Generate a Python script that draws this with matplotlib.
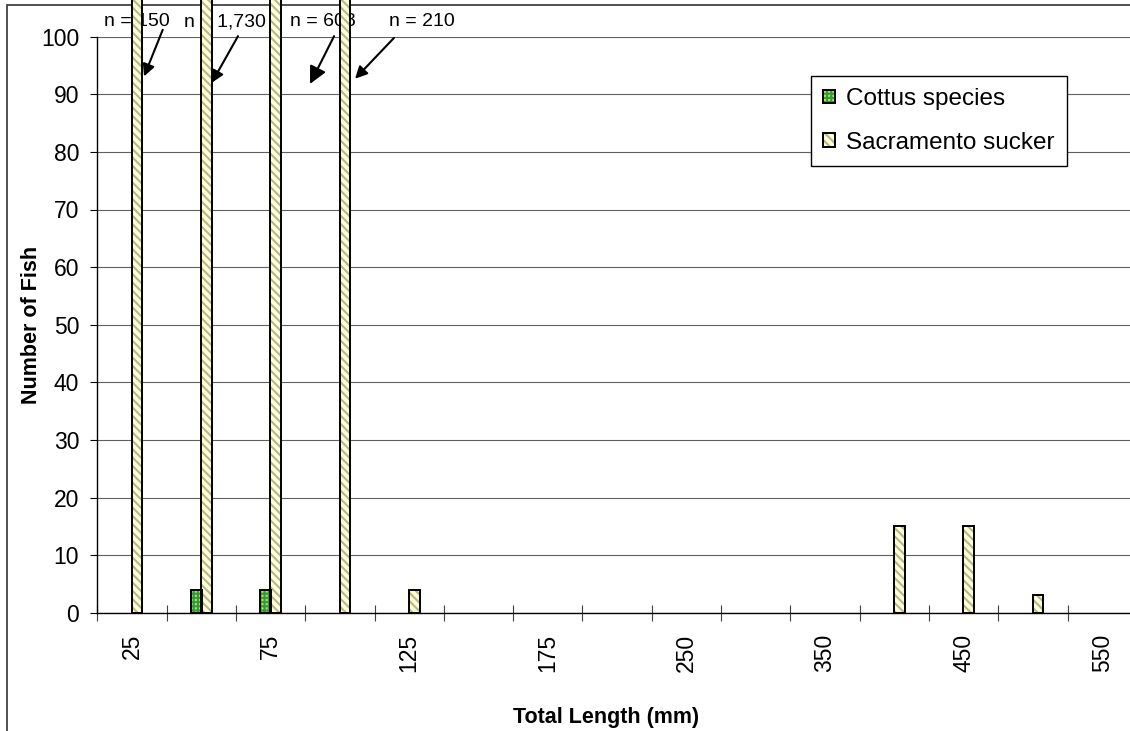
import numpy as np
import matplotlib
matplotlib.use('Agg')
import matplotlib.pyplot as plt
from matplotlib.patches import Patch, Rectangle

# length classes (mm) and counts per species
length_bins = [25, 50, 75, 100, 125, 150, 175, 200, 250, 300, 350, 400, 450, 500, 550]
cottus = np.array([0, 4, 4, 0, 0, 0, 0, 0, 0, 0, 0, 0, 0, 0, 0])
sucker = np.array([150, 1730, 608, 210, 4, 0, 0, 0, 0, 0, 0, 15, 15, 3, 0])
tick_labels = [str(v) if i % 2 == 0 else '' for i, v in enumerate(length_bins)]

# arrows for the off-scale bars: (head x, head y, tail x, tail y, text x, head size)
arrow_pos = [
    (0.174, 93.1, 0.444, 101.2, 0.073, 18),
    (1.151, 92.0, 1.530, 100.1, 1.343, 18),
    (2.569, 91.8, 2.916, 100.1, 2.757, 26),
    (3.219, 92.7, 3.781, 99.8, 4.185, 18),
]

plt.rcParams['font.family'] = ['Liberation Sans', 'DejaVu Sans']
plt.rcParams['hatch.linewidth'] = 1.5

W, H = 1130, 731
fig = plt.figure(figsize=(W / 100, H / 100), dpi=100)
ax = fig.add_axes([97.3 / W, 1 - 612.7 / H, (1137 - 97.3) / W, (612.7 - 36.7) / H])

x = np.arange(len(length_bins))
bw = 0.155
off = 0.072

cot_face = dict(facecolor='#C8E81E', edgecolor='#2E9A4E', hatch='++++', linewidth=0)
suc_face = dict(facecolor='#FFFFD0', edgecolor='#B5B59C', hatch='\\\\\\\\', linewidth=0)
outline = dict(fill=False, edgecolor='black', linewidth=1.4)

m = cottus > 0
ax.bar(x[m] - off, cottus[m], bw, zorder=3, **cot_face)
ax.bar(x[m] - off, cottus[m], bw, zorder=4, **outline)

m = sucker > 0
ax.bar(x[m] + off, sucker[m], bw, zorder=3, clip_on=False, **suc_face)
ax.bar(x[m] + off, sucker[m], bw, zorder=4, clip_on=False, **outline)

# n labels for bars that run off the top
big = [i for i in range(len(sucker)) if sucker[i] > 100]
for i, (hx, hy, tx, ty, lx, ms) in zip(big, arrow_pos):
    ax.text(lx, 102.6, f"n = {sucker[i]:,}", ha='center', va='center',
            fontsize=14, zorder=1, clip_on=False)
    ax.annotate('', xy=(hx, hy), xytext=(tx, ty), annotation_clip=False, zorder=2,
                arrowprops=dict(arrowstyle='-|>', color='black', lw=1.5,
                                mutation_scale=ms, shrinkA=0, shrinkB=0))

ax.set_xlim(-0.5, 14.5)
ax.set_ylim(0, 100)
ax.set_xticks(x)
ax.set_xticklabels(tick_labels, rotation=90, fontsize=16.5)
ax.set_xticks(np.arange(-0.5, 15, 1), minor=True)
ax.tick_params(axis='x', which='major', length=0, pad=15)
ax.tick_params(axis='x', which='minor', direction='inout', length=11.5, width=0.8, color='#404040')
ax.set_yticks(range(0, 101, 10))
ax.tick_params(axis='y', direction='out', length=5, pad=8, labelsize=16.5)

ax.yaxis.grid(True, color='#606060', linewidth=0.8)
ax.set_axisbelow(True)
for s in ['top', 'right']:
    ax.spines[s].set_visible(False)
ax.spines['left'].set_linewidth(1.0)
ax.spines['bottom'].set_linewidth(1.0)

ax.set_xlabel('Total Length (mm)', fontsize=15.5, fontweight='bold')
ax.xaxis.set_label_coords(0.489, -0.164)
ax.set_ylabel('Number of Fish', fontsize=15.5, fontweight='bold')
ax.yaxis.set_label_coords(-0.053, 0.5)

handles = [
    (Patch(**cot_face), Patch(**outline)),
    (Patch(**suc_face), Patch(**outline)),
]
leg = ax.legend(handles, ['Cottus species', 'Sacramento sucker'], loc='upper left',
                bbox_to_anchor=(811 / W, 1 - 76 / H), bbox_transform=fig.transFigure,
                borderaxespad=0, fancybox=False, edgecolor='black', framealpha=1,
                fontsize=17.5, handlelength=0.5, handleheight=0.5, handletextpad=0.45,
                labelspacing=0.9, borderpad=0.5)
leg.get_frame().set_linewidth(1.0)

# chart area border (cut off on the right and bottom)
fig.add_artist(Rectangle((7 / W, -0.5), 2, 1.5 - 5 / H, transform=fig.transFigure,
                         fill=False, edgecolor='#333333', linewidth=1.2, zorder=-1))

fig.savefig('out.png', dpi=100)
